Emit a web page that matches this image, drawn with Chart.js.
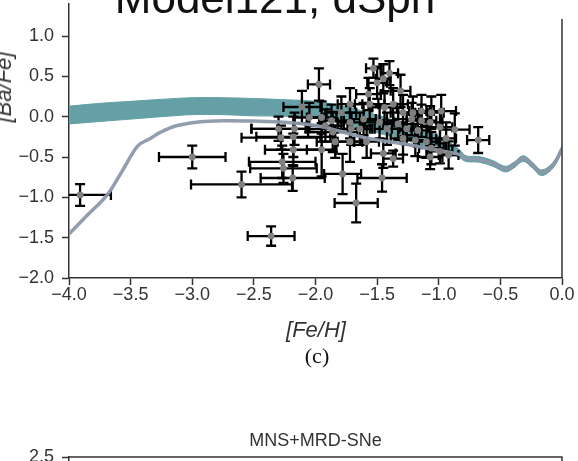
<!DOCTYPE html>
<html>
<head>
<meta charset="utf-8">
<script src="https://cdn.jsdelivr.net/npm/chart.js@4/dist/chart.umd.min.js"></script>
<style>
html,body{margin:0;padding:0;background:#fff;width:578px;height:461px;overflow:hidden;}
#wrap{position:relative;width:578px;height:461px;overflow:hidden;background:#fff;}
#c1{position:absolute;left:0;top:0;}
#c2{position:absolute;left:0;top:400px;}
.lbl{position:absolute;white-space:nowrap;line-height:1;font-family:"Liberation Sans",Arial,sans-serif;}
#title{left:275px;top:-24px;font-size:44px;line-height:44px;color:#111;transform:translateX(-50%);}
#ylab{left:3.5px;top:87px;font-size:22px;font-style:italic;color:#333;transform:translate(-50%,-50%) rotate(-90deg);}
#xlab{left:316px;top:330px;font-size:22px;font-style:italic;color:#333;transform:translate(-50%,-50%);}
#cap{left:317px;top:356px;font-size:22px;font-family:"Liberation Serif","Times New Roman",serif;color:#111;transform:translate(-50%,-50%);}
</style>
</head>
<body>
<div id="wrap">
  <canvas id="c1" width="578" height="461"></canvas>
  <canvas id="c2" width="578" height="300"></canvas>
  <div class="lbl" id="title">Model121, dSph</div>
  <div class="lbl" id="ylab">[Ba/Fe]</div>
  <div class="lbl" id="xlab">[Fe/H]</div>
  <div class="lbl" id="cap">(c)</div>
</div>
<script>
// ---------------- data ----------------
const X_TICKS = [-4.0, -3.5, -3.0, -2.5, -2.0, -1.5, -1.0, -0.5, 0.0];
const X_TICK_LABELS = ['\u22124.0','\u22123.5','\u22123.0','\u22122.5','\u22122.0','\u22121.5','\u22121.0','\u22120.5','0.0'];
const Y_TICKS = [-2.0, -1.5, -1.0, -0.5, 0.0, 0.5, 1.0];
const Y_TICK_LABELS = ['\u22122.0','\u22121.5','\u22121.0','\u22120.5','0.0','0.5','1.0'];
const LOWER_Y_TICKS = [-2.0, -1.5, -1.0, -0.5, 0.0, 0.5, 1.0, 1.5, 2.0, 2.5];
const LOWER_Y_TICK_LABELS = ['\u22122.0','\u22121.5','\u22121.0','\u22120.5','0.0','0.5','1.0','1.5','2.0','2.5'];

// observed stars: [Fe/H], [Ba/Fe] and their errors
const OBS_FEH = [
 -3.91,-3.00,-2.60,-2.36,-1.67,-1.78,-1.46,-2.185,-2.27,-2.26,-0.68,
 -2.28,-2.18,-2.30,-1.972,-2.11,-2.05,-2.17,-2.18,-1.95,-1.87,-1.92,-1.86,-1.72,-1.79,-1.72,-1.71,-1.84,-1.72,-1.95,-1.61,-1.64,
 -1.53,-1.50,-1.40,-1.31,-1.57,-1.56,-1.44,-1.37,-1.29,-1.21,-1.14,-1.06,-0.98,-1.22,-1.14,-1.07,-1.33,-1.48,-1.42,-1.26,-1.17,
 -1.29,-1.19,-1.10,-1.06,-0.99,-0.87,-1.45,-1.585,-0.99,-0.94,-1.07,-0.92,-1.37,-1.45
];
const OBS_BAFE = [
 -0.97,-0.50,-0.84,-1.48,-1.07,-0.71,-0.76,-0.76,-0.56,-0.64,-0.29,
 -0.26,-0.41,-0.15,0.40,0.12,-0.01,-0.15,-0.25,-0.01,-0.05,-0.11,-0.19,0.155,0.05,-0.07,-0.15,-0.31,-0.31,-0.41,-0.03,-0.15,
 0.60,0.42,0.54,0.32,0.28,0.155,0.115,0.155,0.05,0.05,0.07,0.05,0.07,-0.03,-0.05,-0.07,-0.09,-0.07,-0.15,-0.15,-0.17,
 -0.27,-0.29,-0.31,-0.39,-0.43,-0.16,-0.455,-0.31,-0.13,-0.27,-0.50,-0.475,-0.52,0.47
];
const OBS_FEH_ERR = [
 0.25,0.27,0.41,0.19,0.175,0.15,0.20,0.26,0.27,0.27,0.09,
 0.32,0.23,0.22,0.09,0.15,0.12,0.35,0.30,0.12,0.10,0.15,0.20,0.10,0.12,0.10,0.15,0.15,0.10,0.12,0.10,0.10,
 0.06,0.08,0.07,0.08,0.10,0.12,0.10,0.12,0.10,0.12,0.10,0.10,0.12,0.15,0.12,0.10,0.12,0.12,0.10,0.12,0.10,
 0.10,0.12,0.10,0.10,0.10,0.12,0.10,0.10,0.10,0.08,0.10,0.08,0.08,0.06
];
const OBS_BAFE_ERR = [
 0.135,0.14,0.16,0.12,0.24,0.25,0.17,0.16,0.20,0.18,0.16,
 0.15,0.20,0.15,0.20,0.20,0.18,0.20,0.25,0.20,0.20,0.20,0.25,0.20,0.20,0.20,0.20,0.20,0.25,0.33,0.20,0.20,
 0.12,0.20,0.15,0.20,0.20,0.20,0.20,0.20,0.22,0.20,0.20,0.20,0.20,0.20,0.20,0.20,0.20,0.20,0.20,0.20,0.20,
 0.20,0.20,0.20,0.20,0.15,0.20,0.18,0.20,0.20,0.20,0.15,0.17,0.10,0.18
];

// model band (teal) upper / lower edges
const BAND_FEH   = [-4.0,-3.75,-3.5,-3.25,-3.0,-2.75,-2.5,-2.25,-2.0,-1.75,-1.5,-1.25,-1.0,-0.9,-0.83,-0.78,-0.67,-0.56,-0.46,-0.39,-0.315,-0.24,-0.166,-0.072,0.0];
const BAND_UPPER = [0.13,0.165,0.19,0.215,0.235,0.235,0.225,0.21,0.19,0.12,0.02,-0.10,-0.24,-0.33,-0.41,-0.485,-0.495,-0.545,-0.615,-0.565,-0.485,-0.565,-0.66,-0.565,-0.365];
const BAND_LOWER = [-0.09,-0.06,-0.03,0.0,0.025,0.025,0.01,0.005,-0.02,-0.10,-0.20,-0.30,-0.42,-0.47,-0.51,-0.555,-0.565,-0.615,-0.685,-0.635,-0.555,-0.635,-0.73,-0.635,-0.435];

// model line (grey-blue)
const LINE_FEH  = [-4.0,-3.85,-3.69,-3.565,-3.44,-3.34,-3.26,-3.13,-2.95,-2.75,-2.5,-2.25,-2.0,-1.8,-1.6,-1.4,-1.2,-1.0,-0.83,-0.78,-0.67,-0.56,-0.46,-0.39,-0.315,-0.24,-0.166,-0.072,0.0];
const LINE_BAFE = [-1.455,-1.22,-0.97,-0.665,-0.36,-0.27,-0.195,-0.113,-0.065,-0.05,-0.055,-0.07,-0.11,-0.18,-0.26,-0.31,-0.36,-0.42,-0.47,-0.52,-0.53,-0.58,-0.65,-0.60,-0.52,-0.60,-0.695,-0.60,-0.40];

// ---------------- helpers ----------------
const FONT = '"Liberation Sans", Arial, sans-serif';
const AXIS_COLOR = '#333';
const pts = (xs, ys) => xs.map((x, i) => ({x: x, y: ys[i]}));
const obsPoints = OBS_FEH.map((x, i) => ({x: x, y: OBS_BAFE[i], xerr: OBS_FEH_ERR[i], yerr: OBS_BAFE_ERR[i]}));

const errorBarPlugin = {
  id: 'errbars',
  afterDatasetDraw(chart, args) {
    const ds = chart.data.datasets[args.index];
    if (!ds.errorBars) return;
    const xs = chart.scales.x, ys = chart.scales.y, a = chart.chartArea;
    const ctx = chart.ctx;
    const cap = 5;
    ctx.save();
    ctx.beginPath(); ctx.rect(a.left, a.top, a.right - a.left, a.bottom - a.top); ctx.clip();
    ctx.strokeStyle = '#000';
    ctx.lineWidth = 2.3;
    ctx.lineCap = 'butt';
    ds.data.forEach(p => {
      const cx = xs.getPixelForValue(p.x), cy = ys.getPixelForValue(p.y);
      const x0 = xs.getPixelForValue(p.x - p.xerr), x1 = xs.getPixelForValue(p.x + p.xerr);
      const y0 = ys.getPixelForValue(p.y - p.yerr), y1 = ys.getPixelForValue(p.y + p.yerr);
      ctx.beginPath();
      ctx.moveTo(x0, cy); ctx.lineTo(x1, cy);
      ctx.moveTo(cx, y0); ctx.lineTo(cx, y1);
      ctx.moveTo(x0, cy - cap); ctx.lineTo(x0, cy + cap);
      ctx.moveTo(x1, cy - cap); ctx.lineTo(x1, cy + cap);
      ctx.moveTo(cx - cap, y0); ctx.lineTo(cx + cap, y0);
      ctx.moveTo(cx - cap, y1); ctx.lineTo(cx + cap, y1);
      ctx.stroke();
    });
    ctx.restore();
  }
};

const framePlugin = {
  id: 'frame',
  afterDraw(chart, args, opts) {
    const {ctx, chartArea: a} = chart;
    ctx.save();
    ctx.strokeStyle = AXIS_COLOR;
    ctx.lineWidth = 1.5;
    ctx.beginPath();
    if (opts.right) { ctx.moveTo(a.right, a.top + (opts.rightStart || 0)); ctx.lineTo(a.right, a.bottom); }
    if (opts.top) { ctx.moveTo(a.left - 0.75, a.top); ctx.lineTo(a.right + 0.75, a.top); }
    ctx.stroke();
    ctx.restore();
  }
};

function tickSetter(values) {
  return (scale) => { scale.ticks = values.map(v => ({value: v})); };
}
function labelFor(values, labels) {
  return (v) => { const i = values.findIndex(t => Math.abs(t - v) < 1e-9); return i >= 0 ? labels[i] : ''; };
}

// ---------------- main chart ----------------
new Chart(document.getElementById('c1'), {
  type: 'scatter',
  data: {
    datasets: [
      { // 0 markers
        label: 'obs', data: obsPoints, order: 0,
        pointRadius: 3.4, pointBackgroundColor: '#808080', pointBorderColor: '#808080', pointBorderWidth: 0
      },
      { // 1 grey line
        type: 'line', label: 'model line', data: pts(LINE_FEH, LINE_BAFE), order: 1,
        borderColor: 'rgba(140,152,170,0.95)', borderWidth: 3.5, pointRadius: 0, tension: 0.35, fill: false
      },
      { // 2 error bars
        label: 'err', data: obsPoints, order: 2, errorBars: true, pointRadius: 0
      },
      { // 3 band upper
        type: 'line', label: 'band upper', data: pts(BAND_FEH, BAND_UPPER), order: 3,
        borderColor: 'rgb(100,160,165)', borderWidth: 1, pointRadius: 0, tension: 0.35,
        fill: '+1', backgroundColor: 'rgb(100,160,165)'
      },
      { // 4 band lower
        type: 'line', label: 'band lower', data: pts(BAND_FEH, BAND_LOWER), order: 4,
        borderColor: 'rgb(100,160,165)', borderWidth: 1, pointRadius: 0, tension: 0.35, fill: false
      }
    ]
  },
  options: {
    responsive: false, animation: false,
    layout: { padding: { left: 0, right: 16, top: 0, bottom: 0 } },
    plugins: { legend: { display: false }, tooltip: { enabled: false }, title: { display: false },
               frame: { right: true, rightStart: 15, top: false } },
    scales: {
      x: {
        type: 'linear', min: -4.0, max: 0.0,
        afterBuildTicks: tickSetter(X_TICKS),
        afterFit: (s) => { s.height = 183; s.paddingLeft = 0; s.paddingRight = 0; },
        grid: { drawOnChartArea: false, drawTicks: true, tickLength: 7, tickColor: AXIS_COLOR, tickWidth: 1.5 },
        border: { display: true, color: AXIS_COLOR, width: 1.5 },
        ticks: { font: { family: FONT, size: 18 }, color: '#333', padding: -1, maxRotation: 0, autoSkip: false,
                 callback: labelFor(X_TICKS, X_TICK_LABELS) }
      },
      y: {
        type: 'linear', min: -2.0, max: 1.397,
        afterBuildTicks: tickSetter(Y_TICKS),
        afterFit: (s) => { s.width = 69; s.paddingTop = 0; s.paddingBottom = 0; },
        grid: { drawOnChartArea: false, drawTicks: true, tickLength: 7, tickColor: AXIS_COLOR, tickWidth: 1.5 },
        border: { display: true, color: AXIS_COLOR, width: 1.5 },
        ticks: { font: { family: FONT, size: 18 }, color: '#333', padding: 8, autoSkip: false,
                 callback: labelFor(Y_TICKS, Y_TICK_LABELS) }
      }
    }
  },
  plugins: [errorBarPlugin, framePlugin]
});

// ---------------- next panel (top part only) ----------------
new Chart(document.getElementById('c2'), {
  type: 'scatter',
  data: { datasets: [] },
  options: {
    responsive: false, animation: false,
    layout: { padding: { left: 0, right: 16, top: 0, bottom: 0 } },
    plugins: {
      legend: { display: false }, tooltip: { enabled: false },
      title: { display: true, text: 'MNS+MRD-SNe', fullSize: false, color: '#333',
               font: { family: FONT, size: 18, weight: 'normal', lineHeight: 1.2 },
               padding: { top: 30.2, bottom: 5.2 } },
      frame: { right: true, rightStart: 0, top: true }
    },
    scales: {
      x: { type: 'linear', min: -4.0, max: 0.0, display: false },
      y: {
        type: 'linear', min: -2.0, max: 2.5,
        afterBuildTicks: tickSetter(LOWER_Y_TICKS),
        afterFit: (s) => { s.width = 69; s.paddingTop = 0; s.paddingBottom = 0; },
        grid: { drawOnChartArea: false, drawTicks: true, tickLength: 7, tickColor: AXIS_COLOR, tickWidth: 1.5 },
        border: { display: true, color: AXIS_COLOR, width: 1.5 },
        ticks: { font: { family: FONT, size: 18 }, color: '#333', padding: 8, autoSkip: false,
                 callback: labelFor(LOWER_Y_TICKS, LOWER_Y_TICK_LABELS) }
      }
    }
  },
  plugins: [framePlugin]
});
</script>
</body>
</html>
